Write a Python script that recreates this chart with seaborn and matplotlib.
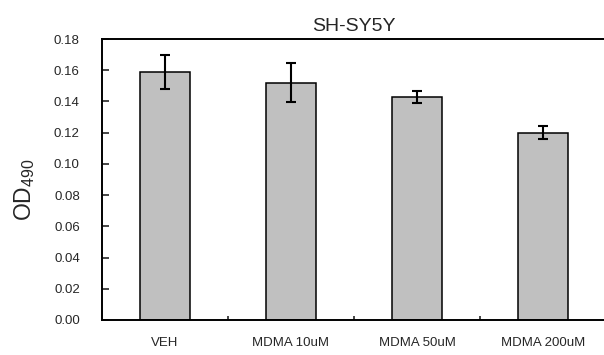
import pandas as pd
import seaborn as sns
import matplotlib
matplotlib.use('Agg')
import matplotlib.pyplot as plt

# Values
groups = ['VEH', 'MDMA 10uM', 'MDMA 50uM', 'MDMA 200uM']
od_mean = [0.159, 0.152, 0.143, 0.120]
od_err = [0.011, 0.0125, 0.004, 0.004]
y_ticks = [0.00, 0.02, 0.04, 0.06, 0.08, 0.10, 0.12, 0.14, 0.16, 0.18]

df = pd.DataFrame({'group': groups, 'od': od_mean, 'err': od_err})

sns.set_style('white')
plt.rcParams['font.family'] = ['Liberation Sans', 'DejaVu Sans']
plt.rcParams['mathtext.fontset'] = 'custom'
plt.rcParams['mathtext.rm'] = 'Liberation Sans'

fig = plt.figure(figsize=(6.04, 3.55), dpi=100)
ax = fig.add_axes([102 / 604, 35 / 355, 504 / 604, 281 / 355])

sns.barplot(data=df, x='group', y='od', color='#c0c0c0', width=0.39,
            edgecolor='black', linewidth=1.1, errorbar=None, ax=ax)
for patch in ax.patches:
    patch.set_facecolor('#c0c0c0')

# error bars
ax.errorbar(df['group'], df['od'], yerr=df['err'], fmt='none',
            ecolor='black', elinewidth=1.5, capsize=3.5, capthick=1.5)

ax.set_xlim(-0.5, 3.5)
ax.set_ylim(0, 0.18)
ax.set_yticks(y_ticks)
ax.set_yticklabels([f'{v:.2f}' for v in y_ticks], fontsize=9.5)
ax.tick_params(axis='y', direction='in', length=5, width=1.2, pad=16, left=True)
ax.set_xticks(range(len(groups)))
ax.set_xticklabels(groups, fontsize=9.5)
ax.tick_params(axis='x', which='major', length=0, pad=12)
ax.set_xticks([0.5, 1.5, 2.5], minor=True)
ax.tick_params(axis='x', which='minor', direction='in', length=3, width=1.2, bottom=True)

for side in ['left', 'bottom', 'top']:
    ax.spines[side].set_visible(True)
    ax.spines[side].set_color('black')
    ax.spines[side].set_linewidth(1.4)
ax.spines['right'].set_visible(False)

ax.set_xlabel('')
ax.set_ylabel(r'$\mathrm{OD}_{\mathrm{490}}$', fontsize=16.5)
ax.yaxis.set_label_coords(-0.128, 0.465)
ax.set_title('SH-SY5Y', fontsize=14, pad=6)

fig.savefig('out.png', dpi=100)
